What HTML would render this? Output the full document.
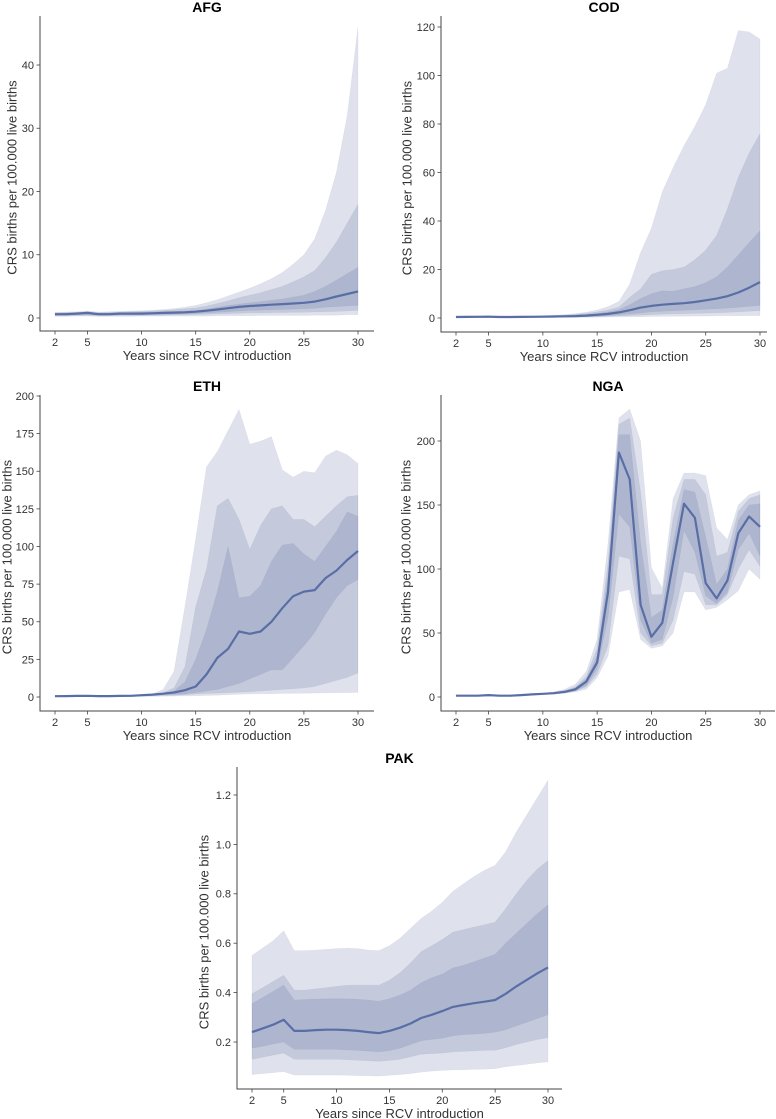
<!DOCTYPE html>
<html><head><meta charset="utf-8">
<style>
html,body{margin:0;padding:0;background:#fff;}
svg{display:block;font-family:"Liberation Sans","DejaVu Sans",sans-serif;}
</style></head>
<body>
<svg id="fig" width="776" height="1119" viewBox="0 0 776 1119" xmlns="http://www.w3.org/2000/svg"></svg>
<script>
const years=[2,3,4,5,6,7,8,9,10,11,12,13,14,15,16,17,18,19,20,21,22,23,24,25,26,27,28,29,30];
const xTicks=[2,5,10,15,20,25,30];

const afgMed=[0.6,0.6,0.7,0.8,0.6,0.6,0.7,0.7,0.7,0.75,0.8,0.85,0.9,1.0,1.15,1.35,1.55,1.75,1.9,2.0,2.1,2.2,2.3,2.4,2.6,2.95,3.4,3.8,4.2];
const afgHi3=[0.9,0.95,1.0,1.1,0.95,1.0,1.05,1.1,1.15,1.25,1.35,1.5,1.7,2.0,2.4,2.9,3.5,4.1,4.7,5.4,6.2,7.2,8.5,10,12.5,17,23,32,46];
const afgHi2=[0.8,0.85,0.9,1.0,0.85,0.9,0.95,1.0,1.05,1.1,1.2,1.3,1.45,1.6,1.9,2.3,2.7,3.2,3.6,4.0,4.5,5.0,5.7,6.5,7.5,9.5,12,15,18];
const afgHi1=[0.7,0.75,0.8,0.9,0.75,0.75,0.8,0.85,0.9,0.95,1.0,1.05,1.1,1.2,1.4,1.7,2.0,2.2,2.4,2.6,2.8,3.0,3.3,3.6,4.2,5.0,6.0,7.0,8.0];
const afgLo1=[0.45,0.45,0.5,0.55,0.45,0.45,0.5,0.5,0.5,0.55,0.6,0.6,0.65,0.7,0.8,0.9,1.0,1.1,1.2,1.25,1.3,1.35,1.4,1.45,1.55,1.7,1.8,1.9,2.0];
const afgLo2=[0.35,0.35,0.4,0.45,0.35,0.35,0.4,0.4,0.4,0.45,0.45,0.5,0.5,0.55,0.6,0.65,0.7,0.75,0.8,0.8,0.85,0.85,0.9,0.9,0.95,1.0,1.05,1.1,1.2];
const afgLo3=[0.25,0.25,0.3,0.3,0.25,0.25,0.25,0.25,0.3,0.3,0.3,0.3,0.3,0.3,0.3,0.35,0.35,0.35,0.35,0.4,0.4,0.4,0.4,0.4,0.45,0.45,0.45,0.5,0.5];
const afgTicks=[0,10,20,30,40];

const codMed=[0.4,0.45,0.5,0.55,0.4,0.4,0.45,0.5,0.55,0.6,0.7,0.8,1.0,1.3,1.7,2.3,3.2,4.3,5.0,5.5,5.8,6.1,6.6,7.3,8.0,9.0,10.5,12.5,14.8];
const codHi3=[0.8,0.85,0.9,1.0,0.8,0.8,0.85,0.9,1.0,1.1,1.4,1.8,2.4,3.3,4.7,6.8,14,27,37,52,62,71,79,88,101,103,118.5,118,115];
const codHi2=[0.7,0.75,0.8,0.85,0.7,0.7,0.75,0.8,0.9,1.0,1.2,1.5,1.9,2.5,3.3,4.5,8.5,12,18,19.5,20,21,24,28,34,45,58,68,76];
const codHi1=[0.6,0.65,0.7,0.75,0.6,0.6,0.65,0.7,0.75,0.85,1.0,1.2,1.5,1.9,2.5,3.4,5.5,8,10,11.2,11,12,13,14.5,17,21,26,31,36];
const codLo1=[0.3,0.3,0.35,0.4,0.3,0.3,0.3,0.35,0.4,0.45,0.5,0.55,0.65,0.8,1.0,1.3,1.7,2.1,2.5,2.8,3.0,3.2,3.4,3.6,3.8,4.1,4.4,4.8,5.2];
const codLo2=[0.2,0.2,0.25,0.3,0.2,0.2,0.2,0.25,0.3,0.3,0.35,0.4,0.45,0.55,0.7,0.85,1.0,1.2,1.4,1.6,1.7,1.8,1.9,2.0,2.1,2.3,2.5,2.8,3.0];
const codLo3=[0.1,0.1,0.15,0.15,0.1,0.1,0.1,0.15,0.15,0.2,0.2,0.25,0.3,0.35,0.4,0.45,0.5,0.55,0.6,0.65,0.7,0.75,0.8,0.8,0.85,0.9,0.95,1.0,1.0];
const codTicks=[0,20,40,60,80,100,120];

const ethMed=[0.5,0.6,0.7,0.8,0.6,0.6,0.7,0.8,1.2,1.6,2.2,3.0,4.5,7,15,26,32,43.5,42,43.5,50,59,67,70,71,79,84,91,97];
const ethHi3=[1,1,1,1.2,1,1,1.1,1.2,1.4,2,5,17,60,105,153,163,177,191,168,170,173,151,146,150,149,160,164,161,155];
const ethHi2=[0.9,0.9,0.9,1.1,0.9,0.9,1,1.1,1.3,1.8,3,6,20,60,85,127,132,118,98,114,125,127,118,118,113,120,127,133,134];
const ethHi1=[0.8,0.8,0.8,1,0.8,0.8,0.9,1,1.2,1.7,2.6,4,10,25,45,70,100,66,67,74,90,101,102,95,90,100,110,123,120];
const ethLo1=[0.3,0.4,0.5,0.6,0.4,0.4,0.5,0.6,0.8,1.1,1.5,1.8,2,3,4,5,7,9,12,15,18,18,26,34,43,55,66,74,78];
const ethLo2=[0.2,0.3,0.4,0.4,0.3,0.3,0.4,0.4,0.6,0.8,1,1.2,1.5,2,2.3,2.6,2.9,3.2,3.5,4,4.5,5,5.5,6,7,9,11,13,16];
const ethLo3=[0.1,0.2,0.2,0.2,0.2,0.2,0.2,0.2,0.3,0.4,0.5,0.6,0.7,0.8,1,1.2,1.5,1.8,2,2.1,2.2,2.3,2.4,2.5,2.6,2.7,2.8,2.9,3];
const ethTicks=[0,25,50,75,100,125,150,175,200];

const ngaMed=[1,1,1,1.5,1,1,1.5,2,2.5,3,4,6,12,27,82,191,170,72,47,58,105,151,140,89,77,91,128,141,133];
const ngaHi3=[1.5,1.5,1.5,2,1.5,1.5,2,2.5,3,4,6,10,20,45,120,218,225,200,101,85,155,175,175,173,132,123,150,158,161];
const ngaHi2=[1.3,1.3,1.3,1.8,1.3,1.3,1.8,2.3,2.8,3.6,5,8,16,38,105,213,218,160,80,80,140,170,170,158,110,113,145,155,158];
const ngaHi1=[1.2,1.2,1.2,1.7,1.2,1.2,1.7,2.2,2.7,3.3,4.5,7,14,32,95,205,205,120,62,68,120,162,160,125,88,100,138,150,151];
const ngaLo1=[0.8,0.8,0.8,1.3,0.8,0.8,1.3,1.8,2.2,2.7,3.5,5,9,22,62,143,133,60,42,45,78,130,113,79,73,82,115,128,110];
const ngaLo2=[0.6,0.6,0.6,1.1,0.6,0.6,1.1,1.5,2,2.4,3.2,4.5,8,18,40,110,108,50,40,42,60,98,96,72,72,80,100,115,102];
const ngaLo3=[0.4,0.4,0.4,0.9,0.4,0.4,0.9,1.3,1.8,2.2,3,4,6,15,32,82,84,45,38,40,50,82,82,68,70,76,83,100,92];
const ngaTicks=[0,50,100,150,200];

const pakMed=[0.24,0.255,0.27,0.29,0.245,0.245,0.248,0.25,0.25,0.248,0.245,0.24,0.236,0.245,0.258,0.275,0.297,0.31,0.325,0.342,0.35,0.357,0.363,0.37,0.395,0.425,0.452,0.478,0.502];
const pakHi3=[0.55,0.58,0.61,0.65,0.57,0.57,0.572,0.575,0.578,0.58,0.578,0.572,0.57,0.59,0.62,0.66,0.70,0.73,0.765,0.81,0.84,0.87,0.895,0.915,0.97,1.05,1.12,1.19,1.26];
const pakHi2=[0.395,0.42,0.445,0.47,0.41,0.41,0.415,0.42,0.425,0.43,0.43,0.43,0.43,0.45,0.48,0.52,0.565,0.59,0.615,0.645,0.655,0.665,0.675,0.685,0.74,0.80,0.855,0.9,0.935];
const pakHi1=[0.355,0.38,0.405,0.43,0.37,0.372,0.374,0.375,0.375,0.375,0.373,0.37,0.365,0.375,0.39,0.41,0.44,0.46,0.475,0.5,0.51,0.525,0.54,0.555,0.6,0.64,0.68,0.72,0.755];
const pakLo1=[0.175,0.183,0.192,0.2,0.17,0.17,0.17,0.17,0.17,0.168,0.166,0.163,0.16,0.165,0.175,0.19,0.205,0.21,0.215,0.225,0.23,0.232,0.235,0.24,0.25,0.265,0.28,0.295,0.31];
const pakLo2=[0.13,0.138,0.147,0.155,0.13,0.13,0.13,0.13,0.13,0.128,0.126,0.124,0.122,0.125,0.13,0.14,0.15,0.153,0.155,0.16,0.162,0.164,0.166,0.167,0.177,0.19,0.2,0.21,0.218];
const pakLo3=[0.068,0.072,0.076,0.08,0.066,0.066,0.066,0.066,0.066,0.065,0.064,0.063,0.062,0.065,0.068,0.072,0.078,0.082,0.085,0.087,0.088,0.089,0.09,0.092,0.1,0.105,0.11,0.115,0.12];
const pakTicks=[0.2,0.4,0.6,0.8,1.0,1.2];

const NS="http://www.w3.org/2000/svg";
const svg=document.getElementById('fig');
function mk(tag,attrs,parent){const e=document.createElementNS(NS,tag);for(const k in attrs)e.setAttribute(k,attrs[k]);(parent||svg).appendChild(e);return e;}

const panels=[
 {id:'afg',title:'AFG',L:40,B:331,T:16,R:374,x2:55,x30:358,v0:0,p0:318,v1:40,p1:65,ticks:afgTicks,dec:0,ylx:12,med:afgMed,bands:[[afgLo3,afgHi3],[afgLo2,afgHi2],[afgLo1,afgHi1]]},
 {id:'cod',title:'COD',L:441,B:332,T:16,R:767,x2:456,x30:760,v0:0,p0:318,v1:120,p1:27,ticks:codTicks,dec:0,ylx:407,med:codMed,bands:[[codLo3,codHi3],[codLo2,codHi2],[codLo1,codHi1]]},
 {id:'eth',title:'ETH',L:40,B:711,T:395,R:374,x2:55,x30:358,v0:0,p0:697,v1:200,p1:396,ticks:ethTicks,dec:0,ylx:7,med:ethMed,bands:[[ethLo3,ethHi3],[ethLo2,ethHi2],[ethLo1,ethHi1]]},
 {id:'nga',title:'NGA',L:441,B:711,T:395,R:775,x2:456,x30:760,v0:0,p0:697,v1:200,p1:441,ticks:ngaTicks,dec:0,ylx:406,med:ngaMed,bands:[[ngaLo3,ngaHi3],[ngaLo2,ngaHi2],[ngaLo1,ngaHi1]]},
 {id:'pak',title:'PAK',L:237,B:1089,T:767,R:562,x2:252,x30:548,v0:0.2,p0:1042,v1:1.2,p1:795,ticks:pakTicks,dec:1,ylx:204,med:pakMed,bands:[[pakLo3,pakHi3],[pakLo2,pakHi2],[pakLo1,pakHi1]]}
];

panels.forEach(p=>{
  const g=mk('g',{});
  
  
  const xs=v=>p.x2+(v-2)*(p.x30-p.x2)/28;
  const ys=v=>p.p0+(v-p.v0)*(p.p1-p.p0)/(p.v1-p.v0);
  p.bands.forEach((b,i)=>{
    let d='M'+years.map((yr,j)=>xs(yr).toFixed(1)+','+ys(b[1][j]).toFixed(1)).join('L');
    for(let j=years.length-1;j>=0;j--) d+='L'+xs(years[j]).toFixed(1)+','+ys(b[0][j]).toFixed(1);
    const band=mk('path',{d:d+'Z',fill:'rgb(76,96,150)','fill-opacity':'0.18',stroke:'rgb(76,96,150)','stroke-opacity':'0.08','stroke-width':'0.6'},g);
    
    
  });
  const line=mk('polyline',{points:years.map((yr,j)=>xs(yr).toFixed(1)+','+ys(p.med[j]).toFixed(1)).join(' '),fill:'none',stroke:'#5a6ea6','stroke-width':'2.2','stroke-linejoin':'round'},g);
  
  
  const ax=mk('path',{d:`M${p.L},${p.T}V${p.B}H${p.R}`,fill:'none',stroke:'#444','stroke-width':'1'},g);
  
  
  xTicks.forEach(t=>{
    const x=xs(t);
    mk('line',{x1:x,x2:x,y1:p.B,y2:p.B+3.5,stroke:'#444','stroke-width':'0.8'},g);
    const tx=mk('text',{x:x,y:p.B+15,'text-anchor':'middle','font-size':'11',fill:'#333'},g);
    tx.textContent=t;
    
    
  });
  p.ticks.forEach(t=>{
    const y=ys(t);
    mk('line',{x1:p.L-3.5,x2:p.L,y1:y,y2:y,stroke:'#444','stroke-width':'0.8'},g);
    const tx=mk('text',{x:p.L-6,y:y+3.9,'text-anchor':'end','font-size':'11',fill:'#333'},g);
    tx.textContent=t.toFixed(p.dec);
    
    
  });
  const cx=(p.L+p.R)/2;
  const title=mk('text',{x:cx,y:p.T-4,'text-anchor':'middle','font-size':'14','font-weight':'bold',fill:'#000'},g);
  title.textContent=p.title;
  
  
  const xl=mk('text',{x:cx,y:p.B+29,'text-anchor':'middle','font-size':'13',fill:'#333'},g);
  xl.textContent='Years since RCV introduction';
  
  
  const cy=(p.T+p.B)/2+4;
  const yl=mk('text',{x:p.ylx,y:cy,'text-anchor':'middle','font-size':'13',fill:'#333',transform:`rotate(-90 ${p.ylx} ${cy})`,'dominant-baseline':'central'},g);
  yl.textContent='CRS births per 100.000 live births';
  
  
});
</script>
</body></html>
